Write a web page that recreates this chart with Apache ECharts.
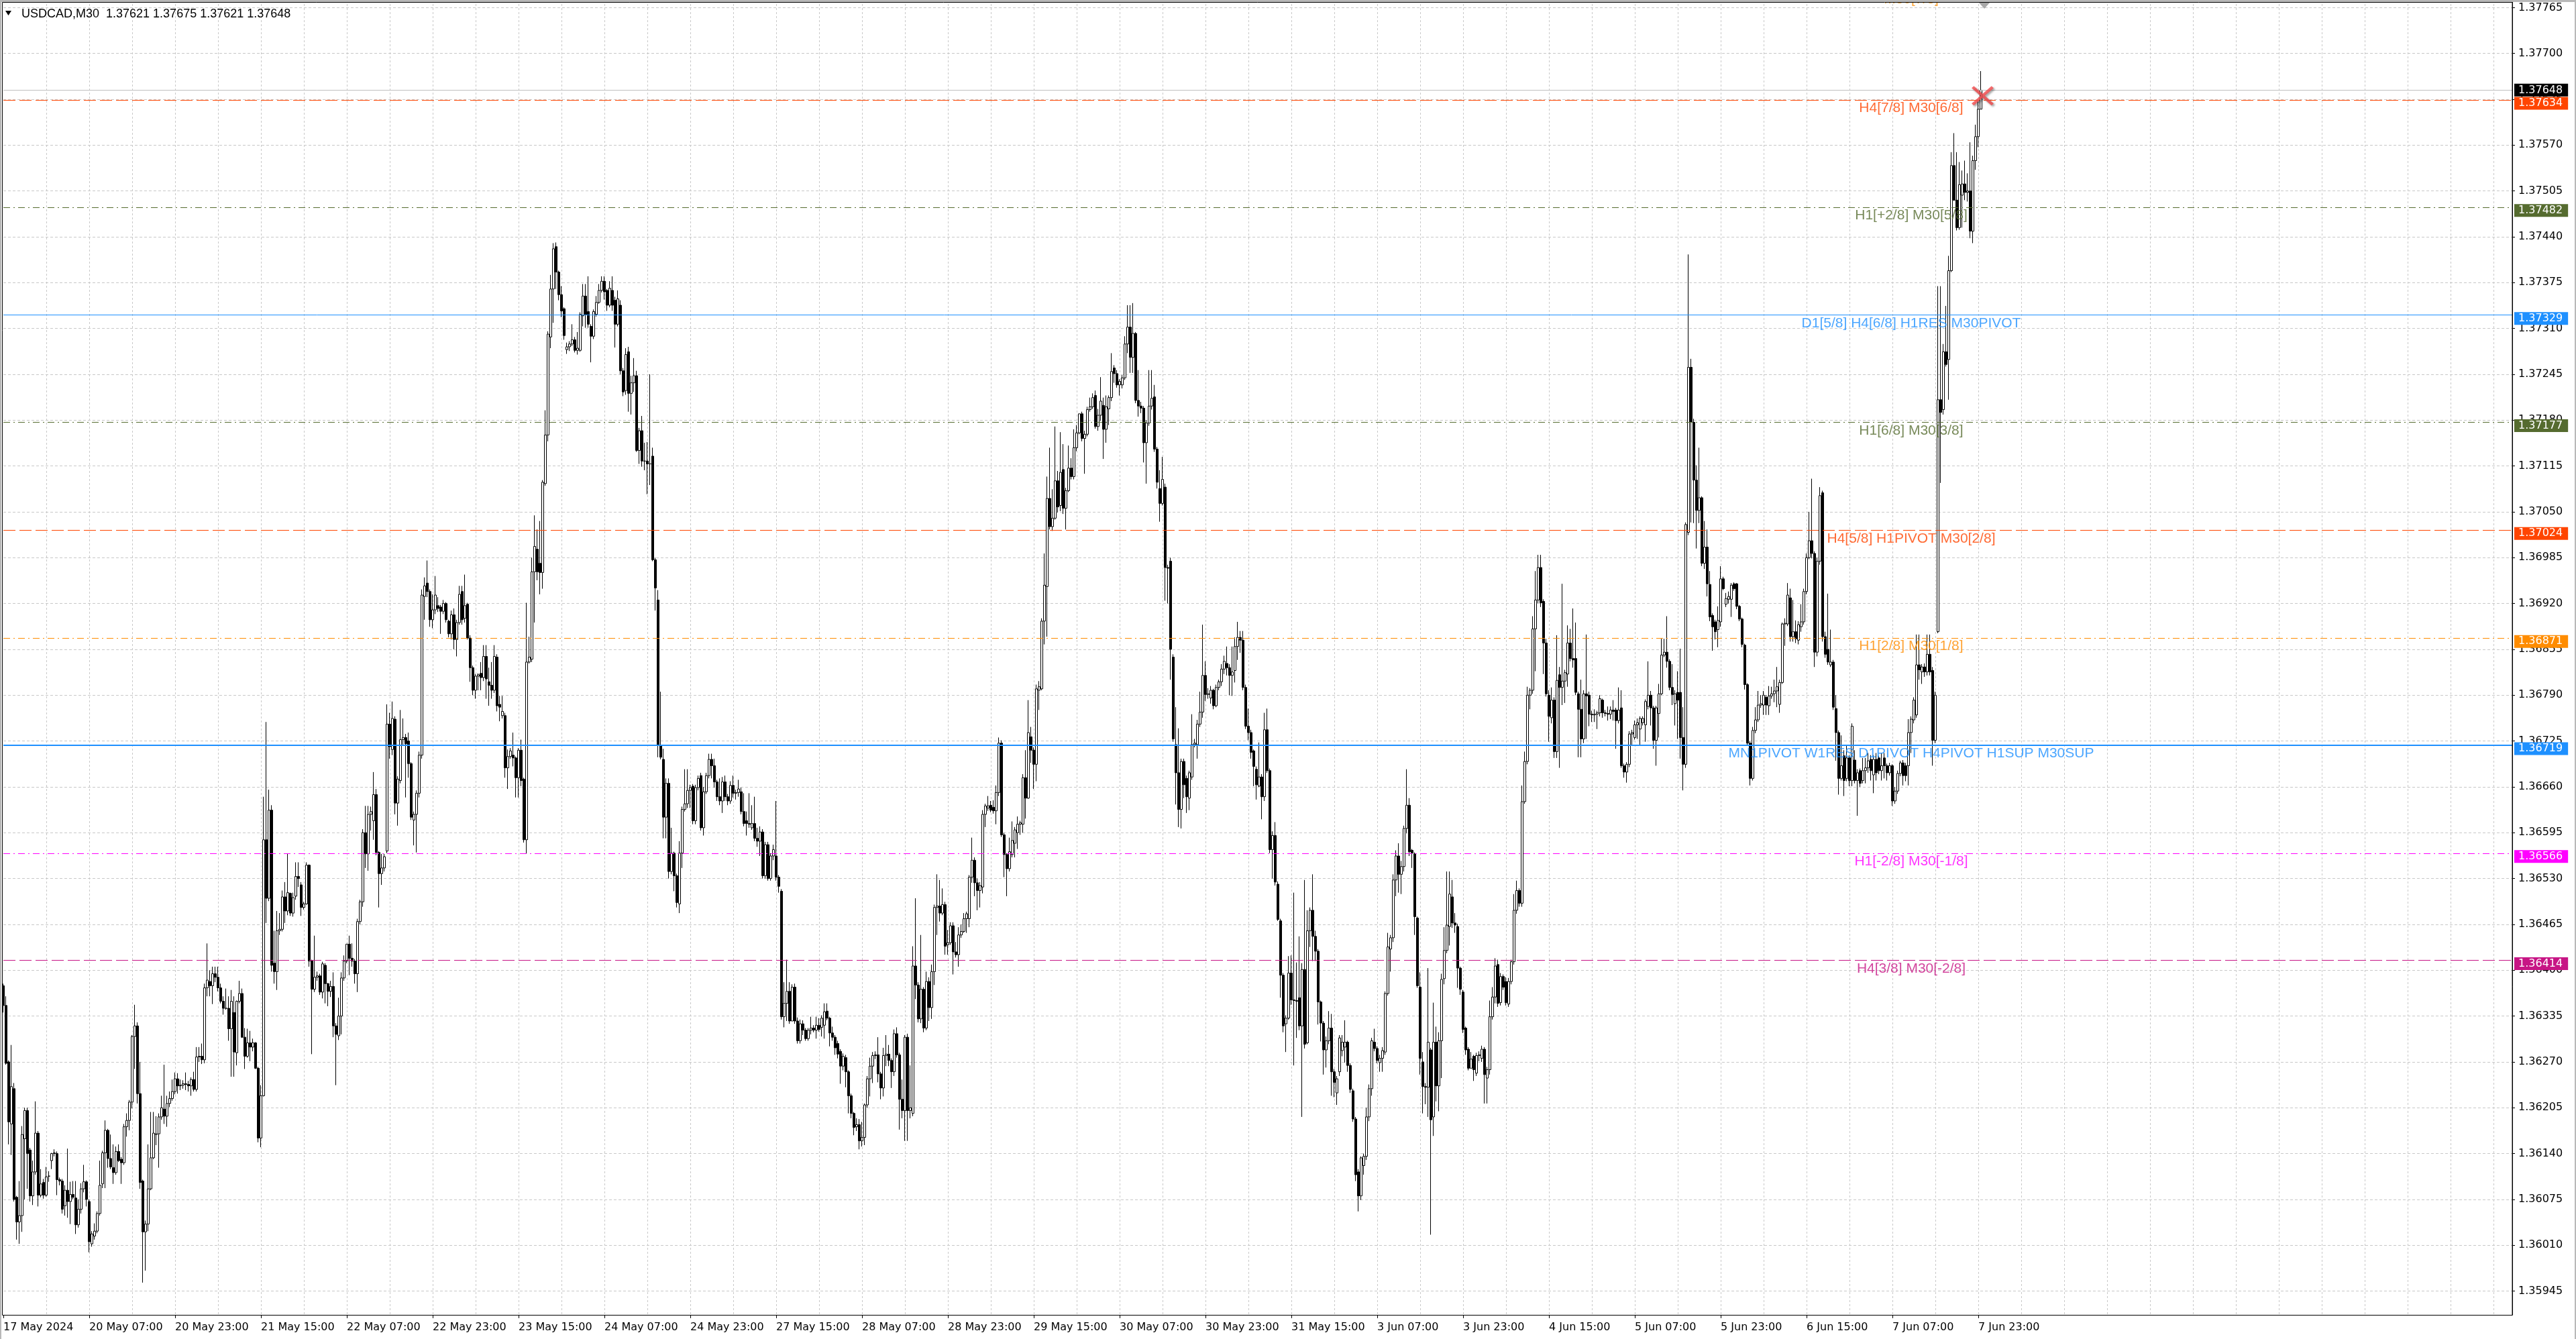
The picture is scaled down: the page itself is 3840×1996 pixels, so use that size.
<!DOCTYPE html>
<html><head><meta charset="utf-8">
<script src="https://cdn.jsdelivr.net/npm/echarts@6/dist/echarts.min.js"></script>
<style>html,body{margin:0;padding:0;background:#fff}#c{width:3840px;height:1996px}</style>
</head><body><div id="c"></div>
<script>
// Prices are stored in points: price = 1.35 + v / 100000
const open = [
1378,1350,1270,1182,1232,1078,1043,1052,1161,1201,
1145,1080,1114,1169,1081,1099,1081,1108,1130,1140,
1140,1103,1101,1066,1088,1072,1082,1077,1039,1061,
1090,1100,1072,1012,1023,1030,1055,1097,1141,1173,
1133,1120,1113,1143,1132,1127,1178,1187,1213,1306,
1321,1225,1101,1029,1040,1090,1134,1167,1168,1192,
1203,1193,1211,1218,1228,1246,1236,1237,1239,1238,
1236,1245,1231,1277,1278,1273,1375,1384,1378,1395,
1390,1375,1356,1346,1346,1317,1340,1283,1356,1367,
1305,1278,1297,1291,1297,1261,1162,1222,1585,1502,
1627,1410,1398,1456,1458,1504,1484,1509,1481,1505,
1533,1521,1489,1494,1549,1413,1373,1390,1392,1369,
1407,1381,1370,1377,1321,1307,1335,1389,1413,1437,
1417,1413,1395,1469,1497,1595,1565,1621,1612,1649,
1567,1537,1545,1569,1749,1713,1756,1637,1669,1727,
1730,1725,1693,1613,1621,1651,1705,1930,1949,1937,
1897,1911,1917,1915,1909,1920,1895,1877,1904,1869,
1893,1937,1899,1919,1871,1829,1797,1817,1821,1815,
1845,1809,1804,1797,1844,1777,1761,1761,1687,1703,
1705,1701,1673,1712,1671,1585,1837,1841,1965,1997,
1977,1964,2090,2159,2298,2366,2426,2390,2358,2338,
2280,2284,2288,2294,2279,2279,2328,2356,2334,2313,
2299,2330,2347,2364,2377,2364,2343,2364,2350,2316,
2343,2250,2222,2277,2218,2233,2243,2137,2165,2122,
2122,2118,2129,1982,1925,1719,1699,1617,1665,1540,
1566,1534,1494,1566,1628,1636,1655,1661,1612,1659,
1676,1602,1653,1676,1699,1690,1667,1646,1640,1667,
1646,1640,1662,1651,1652,1653,1625,1612,1608,1602,
1608,1587,1583,1596,1534,1578,1530,1562,1562,1532,
1512,1334,1353,1370,1328,1376,1328,1300,1324,1315,
1303,1315,1318,1315,1322,1319,1322,1342,1332,1311,
1305,1296,1285,1264,1276,1256,1222,1197,1178,1181,
1158,1163,1209,1246,1264,1279,1280,1253,1233,1279,
1281,1272,1256,1310,1280,1217,1201,1305,1201,1197,
1406,1379,1331,1373,1318,1384,1347,1398,1489,1491,
1481,1493,1436,1439,1463,1426,1422,1450,1455,1473,
1473,1532,1556,1524,1513,1518,1621,1630,1634,1631,
1626,1652,1722,1592,1564,1544,1564,1580,1595,1607,
1607,1673,1644,1731,1712,1692,1797,1799,1895,1944,
2069,2029,2041,2094,2059,2110,2055,2080,2112,2100,
2141,2162,2189,2154,2160,2195,2199,2215,2171,2187,
2201,2167,2196,2212,2254,2246,2230,2230,2240,2288,
2312,2269,2303,2208,2200,2197,2148,2176,2200,2213,
2139,2083,2062,2085,1971,1980,1844,1720,1680,1628,
1696,1672,1644,1674,1720,1720,1749,1766,1818,1791,
1786,1797,1775,1801,1809,1827,1835,1829,1818,1825,
1859,1872,1868,1801,1746,1737,1711,1685,1661,1674,
1646,1741,1683,1571,1591,1522,1470,1393,1324,1332,
1396,1358,1357,1361,1321,1401,1297,1456,1485,1448,
1427,1355,1325,1287,1300,1318,1256,1226,1256,1286,
1291,1298,1265,1229,1189,1114,1080,1123,1136,1192,
1232,1298,1289,1269,1275,1284,1367,1430,1446,1528,
1562,1536,1547,1601,1634,1570,1565,1474,1376,1270,
1235,1234,1287,1192,1298,1236,1300,1388,1428,1462,
1504,1467,1462,1403,1369,1318,1288,1261,1278,1254,
1279,1275,1288,1247,1259,1334,1362,1408,1354,1391,
1384,1352,1384,1412,1485,1513,1495,1639,1696,1790,
1797,1884,1925,1971,1923,1864,1790,1758,1783,1710,
1819,1801,1810,1820,1864,1842,1842,1792,1770,1728,
1792,1790,1763,1762,1763,1765,1783,1765,1764,1763,
1769,1769,1754,1772,1690,1681,1692,1735,1730,1748,
1742,1751,1748,1774,1790,1772,1726,1764,1792,1847,
1851,1838,1801,1778,1794,1794,1730,1692,2021,2255,
2177,2095,2052,2070,1977,2000,1947,1903,1894,1883,
1894,1955,1919,1926,1926,1948,1948,1916,1898,1861,
1805,1722,1672,1740,1755,1776,1776,1787,1775,1789,
1792,1796,1777,1808,1891,1891,1928,1873,1880,1868,
1887,1894,1937,1985,2009,1991,1851,1980,2077,1873,
1855,1833,1837,1771,1737,1672,1704,1672,1701,1669,
1698,1669,1683,1669,1683,1687,1699,1677,1699,1701,
1683,1701,1690,1680,1690,1640,1654,1679,1694,1690,
1690,1737,1755,1762,1833,1823,1830,1823,1848,1825,
1726,1880,2209,2195,2277,2266,2392,2541,2492,2453,
2499,2515,2503,2505,2448,2548,2582,2621];
const high = [
1381,1363,1272,1294,1240,1080,1101,1179,1205,1205,
1148,1130,1214,1172,1118,1104,1121,1115,1141,1146,
1143,1106,1104,1095,1147,1100,1101,1101,1075,1098,
1124,1102,1075,1030,1041,1058,1130,1144,1187,1175,
1167,1153,1150,1153,1135,1182,1197,1216,1308,1351,
1326,1270,1103,1045,1153,1199,1199,1193,1197,1222,
1266,1222,1228,1245,1255,1254,1245,1244,1255,1243,
1248,1256,1291,1291,1296,1381,1438,1400,1405,1405,
1405,1381,1363,1374,1363,1372,1363,1357,1385,1374,
1318,1317,1314,1303,1298,1263,1237,1646,1752,1656,
1634,1456,1484,1481,1513,1525,1565,1510,1510,1553,
1553,1525,1497,1553,1550,1415,1449,1398,1395,1412,
1410,1382,1385,1397,1325,1361,1397,1421,1437,1449,
1438,1416,1473,1500,1600,1633,1633,1632,1681,1657,
1569,1565,1565,1777,1765,1781,1760,1675,1769,1757,
1735,1737,1695,1625,1655,1710,1940,1957,1981,1940,
1933,1959,1929,1918,1925,1922,1897,1910,1913,1897,
1945,1945,1961,1921,1875,1832,1820,1821,1837,1861,
1861,1829,1837,1861,1848,1789,1789,1765,1713,1715,
1737,1703,1715,1727,1673,1921,1873,1985,2045,2025,
2037,2095,2194,2306,2386,2431,2432,2392,2370,2340,
2290,2292,2316,2298,2305,2333,2373,2373,2384,2316,
2337,2356,2373,2384,2384,2366,2377,2384,2355,2364,
2350,2254,2282,2284,2243,2268,2250,2169,2186,2148,
2149,2245,2141,1985,1939,1795,1714,1672,1672,1602,
1568,1537,1583,1632,1685,1685,1663,1664,1663,1676,
1680,1660,1680,1707,1707,1700,1670,1672,1674,1676,
1650,1668,1676,1656,1670,1659,1651,1625,1651,1634,
1646,1602,1604,1600,1582,1582,1566,1578,1640,1535,
1515,1383,1415,1383,1380,1381,1333,1330,1329,1318,
1318,1334,1322,1334,1332,1336,1353,1353,1334,1320,
1308,1300,1288,1282,1280,1258,1225,1199,1190,1189,
1185,1211,1250,1276,1284,1285,1305,1256,1290,1308,
1294,1275,1316,1319,1283,1245,1308,1310,1265,1434,
1502,1383,1450,1376,1398,1390,1408,1493,1536,1528,
1516,1497,1457,1468,1468,1440,1461,1465,1481,1483,
1535,1588,1560,1530,1525,1627,1636,1647,1640,1641,
1662,1730,1726,1595,1566,1588,1611,1603,1618,1612,
1678,1712,1783,1745,1716,1805,1810,1899,1991,2100,
2141,2082,2171,2108,2163,2146,2084,2144,2126,2167,
2173,2189,2192,2165,2199,2212,2218,2222,2196,2241,
2212,2215,2215,2275,2258,2251,2238,2244,2299,2343,
2343,2346,2305,2251,2206,2200,2180,2251,2251,2230,
2142,2109,2128,2090,1975,1985,1848,1773,1743,1700,
1700,1676,1683,1763,1728,1755,1795,1890,1838,1800,
1803,1799,1805,1812,1834,1846,1859,1834,1859,1872,
1894,1881,1881,1805,1771,1741,1713,1689,1723,1678,
1765,1771,1686,1597,1610,1526,1473,1396,1336,1420,
1421,1510,1411,1448,1410,1528,1485,1489,1536,1456,
1430,1357,1328,1306,1342,1338,1260,1250,1308,1308,
1329,1300,1268,1232,1192,1118,1136,1140,1205,1238,
1304,1317,1292,1280,1291,1370,1453,1450,1536,1570,
1580,1555,1605,1685,1644,1572,1567,1476,1397,1284,
1240,1403,1290,1354,1320,1312,1395,1461,1540,1540,
1528,1481,1466,1405,1372,1320,1291,1284,1280,1283,
1285,1293,1291,1263,1357,1376,1417,1415,1396,1394,
1390,1389,1415,1508,1527,1516,1662,1710,1802,1800,
1902,1966,1989,1989,1926,1870,1797,1801,1787,1875,
1830,1948,1826,1889,1884,1913,1893,1795,1812,1797,
1876,1795,1768,1770,1768,1790,1785,1769,1774,1774,
1783,1772,1801,1797,1693,1695,1739,1741,1754,1757,
1760,1760,1784,1838,1796,1775,1775,1806,1870,1870,
1902,1841,1834,1797,1824,1856,1773,2035,2415,2267,
2182,2116,2141,2072,2037,2025,1966,1906,1897,1916,
1973,1958,1935,1937,1949,1950,1949,1918,1900,1863,
1807,1725,1745,1773,1796,1790,1796,1790,1803,1802,
1812,1830,1812,1893,1899,1949,1941,1925,1896,1895,
1919,1941,1991,2050,2097,1994,1985,2085,2080,1880,
1934,1883,1840,1790,1740,1733,1712,1719,1705,1750,
1712,1685,1686,1701,1701,1708,1705,1705,1708,1704,
1708,1708,1693,1694,1692,1660,1683,1697,1698,1694,
1756,1760,1787,1876,1876,1834,1835,1876,1876,1830,
1795,2370,2370,2288,2342,2413,2560,2587,2560,2546,
2534,2548,2530,2574,2555,2599,2632,2675];
const low = [
1340,1266,1153,1138,1072,1018,1012,1029,1075,1090,
1072,1067,1110,1065,1078,1076,1079,1100,1118,1136,
1081,1095,1055,1052,1049,1040,1075,1026,1035,1055,
1085,1065,1000,1008,1018,1027,1052,1091,1091,1120,
1118,1097,1110,1128,1097,1124,1164,1173,1204,1260,
1211,1090,957,974,1030,1088,1132,1152,1120,1188,
1182,1178,1206,1215,1224,1225,1230,1232,1230,1228,
1222,1228,1228,1270,1267,1268,1363,1363,1352,1383,
1370,1353,1337,1344,1300,1249,1249,1265,1353,1304,
1260,1276,1271,1285,1260,1156,1149,1221,1467,1498,
1398,1381,1372,1450,1455,1467,1478,1477,1476,1500,
1518,1477,1486,1493,1405,1281,1369,1385,1365,1360,
1353,1349,1362,1305,1237,1301,1309,1385,1410,1393,
1405,1381,1369,1465,1490,1545,1541,1598,1585,1563,
1489,1521,1540,1566,1700,1705,1621,1605,1665,1720,
1645,1673,1613,1577,1567,1645,1700,1897,1929,1887,
1885,1905,1908,1877,1905,1893,1872,1869,1855,1845,
1890,1890,1893,1869,1809,1790,1785,1797,1797,1810,
1785,1775,1785,1793,1767,1753,1757,1673,1657,1700,
1689,1645,1645,1661,1581,1565,1835,1837,1893,1953,
1933,1941,2087,2150,2282,2318,2366,2350,2326,2294,
2274,2278,2285,2276,2273,2277,2313,2311,2311,2262,
2295,2327,2345,2361,2351,2335,2340,2335,2283,2313,
2245,2214,2216,2192,2188,2220,2135,2118,2114,2109,
2075,2088,1980,1910,1702,1699,1587,1587,1530,1536,
1512,1489,1481,1545,1625,1630,1630,1607,1607,1655,
1598,1591,1650,1672,1672,1659,1640,1634,1623,1640,
1634,1636,1645,1642,1646,1621,1604,1591,1602,1599,
1583,1575,1562,1530,1530,1527,1527,1556,1527,1510,
1330,1319,1328,1324,1328,1324,1296,1296,1308,1300,
1300,1309,1312,1303,1313,1306,1303,1329,1292,1300,
1280,1275,1239,1258,1234,1197,1190,1166,1172,1146,
1150,1152,1205,1221,1240,1274,1241,1217,1221,1264,
1264,1233,1250,1276,1174,1190,1158,1158,1190,1193,
1359,1326,1325,1312,1315,1328,1331,1379,1450,1469,
1478,1422,1422,1436,1394,1418,1405,1446,1453,1453,
1461,1524,1505,1485,1489,1509,1603,1626,1624,1622,
1607,1647,1589,1532,1505,1540,1560,1560,1572,1592,
1595,1615,1643,1694,1657,1668,1769,1797,1862,1873,
2025,2023,2039,2049,2051,2047,2025,2078,2096,2096,
2136,2160,2150,2104,2157,2192,2196,2168,2165,2179,
2125,2148,2173,2207,2233,2226,2215,2225,2237,2275,
2247,2247,2204,2185,2190,2120,2090,2172,2195,2135,
2083,2036,2059,1924,1920,1812,1724,1635,1603,1601,
1644,1623,1627,1670,1716,1700,1745,1758,1782,1785,
1778,1770,1773,1797,1803,1820,1818,1790,1789,1808,
1840,1850,1797,1742,1726,1700,1661,1642,1660,1614,
1640,1680,1566,1530,1520,1470,1361,1312,1284,1330,
1351,1265,1304,1315,1192,1289,1295,1433,1413,1413,
1323,1299,1252,1262,1295,1222,1220,1209,1250,1278,
1269,1256,1226,1185,1101,1058,1074,1110,1131,1186,
1222,1285,1268,1256,1256,1280,1364,1398,1440,1505,
1510,1508,1540,1594,1562,1545,1450,1375,1252,1197,
1210,1192,1025,1165,1214,1200,1247,1380,1424,1435,
1460,1453,1375,1365,1311,1280,1258,1261,1243,1250,
1271,1270,1211,1211,1252,1330,1353,1348,1350,1372,
1350,1348,1380,1408,1480,1490,1490,1636,1692,1770,
1792,1824,1920,1915,1820,1788,1724,1750,1701,1701,
1687,1776,1779,1802,1838,1829,1790,1702,1702,1722,
1728,1746,1752,1752,1742,1760,1758,1760,1754,1756,
1754,1714,1750,1687,1673,1666,1688,1719,1727,1728,
1719,1747,1724,1770,1747,1714,1690,1730,1790,1844,
1829,1797,1776,1747,1728,1700,1655,1687,2017,2035,
2034,1998,2034,1973,1969,1930,1895,1853,1869,1858,
1887,1939,1915,1920,1901,1938,1912,1895,1858,1798,
1719,1662,1669,1736,1752,1772,1762,1762,1762,1785,
1780,1773,1765,1806,1860,1888,1866,1866,1864,1862,
1880,1890,1933,1983,1984,1830,1845,1975,1866,1843,
1833,1830,1769,1697,1649,1669,1647,1668,1661,1661,
1665,1619,1660,1665,1665,1680,1669,1651,1669,1678,
1669,1672,1669,1676,1633,1636,1650,1675,1662,1668,
1662,1708,1750,1758,1812,1806,1816,1818,1818,1690,
1722,1878,2091,2188,2256,2209,2390,2491,2449,2450,
2453,2492,2490,2438,2431,2535,2567,2621];
const close = [
1350,1268,1185,1235,1075,1043,1052,1167,1201,1140,
1080,1114,1169,1081,1097,1081,1107,1108,1140,1141,
1103,1101,1061,1088,1072,1082,1078,1039,1061,1090,
1100,1075,1015,1026,1030,1055,1095,1141,1173,1133,
1121,1113,1143,1130,1127,1178,1187,1213,1306,1321,
1225,1099,1029,1040,1090,1134,1169,1168,1192,1205,
1193,1211,1218,1228,1246,1236,1237,1239,1238,1236,
1245,1231,1277,1278,1273,1375,1386,1378,1395,1390,
1375,1356,1346,1346,1317,1356,1284,1356,1367,1305,
1278,1297,1291,1297,1261,1162,1222,1585,1502,1627,
1407,1398,1456,1458,1504,1484,1510,1481,1503,1533,
1530,1489,1494,1549,1413,1373,1390,1392,1369,1409,
1381,1370,1377,1321,1309,1335,1389,1413,1437,1417,
1413,1395,1469,1497,1595,1565,1621,1625,1649,1567,
1537,1545,1561,1749,1717,1757,1637,1671,1727,1730,
1721,1693,1617,1621,1651,1705,1932,1945,1937,1897,
1911,1932,1913,1909,1920,1897,1877,1904,1869,1893,
1933,1897,1917,1871,1829,1797,1817,1819,1815,1845,
1813,1804,1797,1845,1775,1773,1767,1687,1703,1711,
1701,1673,1712,1669,1585,1837,1844,1965,2001,1965,
1964,2092,2159,2302,2366,2423,2390,2358,2335,2300,
2284,2288,2294,2279,2282,2330,2356,2330,2316,2299,
2334,2347,2364,2377,2362,2343,2367,2343,2316,2352,
2250,2220,2273,2218,2233,2243,2137,2165,2122,2122,
2118,2118,1982,1942,1719,1702,1617,1665,1540,1566,
1534,1496,1566,1628,1636,1655,1659,1612,1659,1672,
1602,1653,1676,1699,1690,1667,1646,1640,1667,1646,
1640,1662,1651,1652,1657,1625,1608,1608,1607,1608,
1587,1583,1596,1534,1578,1530,1562,1571,1532,1519,
1334,1353,1370,1328,1376,1328,1300,1324,1315,1303,
1315,1318,1315,1322,1316,1332,1341,1332,1311,1305,
1290,1281,1264,1278,1256,1222,1197,1177,1181,1158,
1163,1209,1246,1264,1279,1280,1253,1233,1279,1281,
1272,1256,1310,1280,1217,1201,1305,1201,1205,1406,
1379,1331,1373,1318,1384,1347,1398,1489,1491,1481,
1493,1434,1439,1463,1426,1422,1450,1455,1473,1480,
1532,1556,1524,1513,1520,1621,1633,1633,1627,1626,
1652,1722,1592,1564,1544,1568,1584,1599,1607,1609,
1673,1644,1737,1712,1692,1799,1802,1895,1946,2069,
2029,2041,2094,2057,2106,2055,2080,2112,2100,2141,
2162,2189,2154,2160,2195,2199,2212,2171,2187,2207,
2167,2199,2212,2249,2246,2230,2235,2240,2288,2312,
2269,2303,2208,2200,2197,2148,2176,2200,2211,2139,
2092,2062,2096,1971,1970,1855,1728,1680,1628,1696,
1663,1646,1680,1720,1722,1749,1766,1818,1791,1792,
1797,1775,1801,1809,1827,1838,1829,1818,1823,1859,
1872,1868,1801,1746,1737,1709,1689,1663,1674,1646,
1741,1683,1571,1591,1525,1472,1393,1321,1332,1396,
1358,1357,1356,1321,1401,1295,1456,1485,1448,1427,
1355,1325,1287,1300,1318,1256,1241,1246,1304,1298,
1298,1265,1231,1189,1110,1080,1134,1136,1192,1232,
1300,1289,1272,1275,1286,1367,1433,1446,1528,1562,
1536,1547,1601,1634,1568,1566,1476,1378,1275,1235,
1234,1298,1188,1298,1236,1300,1387,1428,1464,1508,
1467,1464,1403,1373,1316,1287,1261,1274,1259,1279,
1280,1288,1252,1259,1334,1362,1406,1353,1391,1376,
1354,1384,1412,1485,1513,1495,1639,1696,1790,1797,
1884,1925,1971,1921,1864,1792,1760,1783,1710,1811,
1801,1810,1822,1864,1842,1840,1794,1770,1728,1792,
1789,1763,1762,1763,1765,1785,1765,1764,1763,1769,
1767,1754,1769,1690,1681,1692,1735,1737,1748,1751,
1757,1757,1781,1790,1772,1726,1772,1792,1847,1851,
1838,1801,1791,1792,1783,1730,1692,2032,2255,2177,
2095,2052,2070,1977,2000,1948,1901,1887,1880,1896,
1955,1941,1927,1930,1946,1941,1916,1898,1862,1805,
1722,1672,1740,1755,1776,1778,1790,1776,1789,1792,
1796,1802,1808,1891,1892,1932,1873,1880,1870,1890,
1894,1937,1985,2009,1991,1851,1980,2073,1873,1848,
1837,1837,1773,1737,1672,1690,1669,1701,1669,1746,
1669,1680,1665,1683,1687,1697,1683,1699,1680,1683,
1690,1690,1680,1690,1640,1654,1679,1694,1676,1676,
1737,1756,1783,1833,1826,1830,1823,1848,1823,1726,
1790,2209,2191,2277,2259,2392,2541,2492,2453,2514,
2515,2503,2505,2448,2548,2582,2621,2648];

const timeLabels = ['17 May 2024','20 May 07:00','20 May 23:00','21 May 15:00','22 May 07:00','22 May 23:00',
 '23 May 15:00','24 May 07:00','24 May 23:00','27 May 15:00','28 May 07:00','28 May 23:00','29 May 15:00',
 '30 May 07:00','30 May 23:00','31 May 15:00','3 Jun 07:00','3 Jun 23:00','4 Jun 15:00','5 Jun 07:00',
 '5 Jun 23:00','6 Jun 15:00','7 Jun 07:00','7 Jun 23:00'];
const priceTickLabels = ['1.35945','1.36010','1.36075','1.36140','1.36205','1.36270','1.36335','1.36400',
 '1.36465','1.36530','1.36595','1.36660','1.36725','1.36790','1.36855','1.36920','1.36985','1.37050',
 '1.37115','1.37180','1.37245','1.37310','1.37375','1.37440','1.37505','1.37570','1.37635','1.37700','1.37765'];

const levelValues = [2634, 2482, 2329, 2177, 2024, 1871, 1719, 1566, 1414];
const levelTexts = ['H4[7/8] M30[6/8]','H1[+2/8] M30[5/8]','D1[5/8] H4[6/8] H1RES M30PIVOT','H1[6/8] M30[3/8]',
 'H4[5/8] H1PIVOT M30[2/8]','H1[2/8] M30[1/8]','MN1PIVOT W1RES D1PIVOT H4PIVOT H1SUP M30SUP',
 'H1[-2/8] M30[-1/8]','H4[3/8] M30[-2/8]'];
const topLevelValue = [2788];
const topLevelText = ['M30[7/8]'];
const bidValue = [2648];
const signalValue = [2640];

// ---- styles (kept apart from data) ----
const levelColors = ['#ff4500','#556b2f','#1e90ff','#556b2f','#ff4500','#ff8c00','#1e90ff','#ff00ff','#c71585'];
const DASH = [18,6], DASHDOT = [10,5,2,5];
const levelDash = [DASH, DASHDOT, 'solid', DASHDOT, DASH, DASHDOT, 'solid', DASHDOT, DASH];
const levelWidth = [1,1,1,1,1,1,2,1,1];
const AXFONT = 'DejaVu Sans';
const TXFONT = 'Liberation Sans';
const NSLOT = 936;
const LABEL_IDX = 711;

const toPrice = v => (1.35 + v / 100000).toFixed(5);
const priceTicks = priceTickLabels.map(s => Math.round(parseFloat(s) * 100000) - 135000);
const cats = [];
for (let i = 0; i < NSLOT; i++) cats.push(i % 32 === 0 && i / 32 < timeLabels.length ? timeLabels[i / 32] : '');
const candles = open.map((o, i) => [o, close[i], Math.min(low[i], o, close[i]), Math.max(high[i], o, close[i])]);
const last = open.length - 1;

const tagLabel = (v, bg, dy) => ({
  show: true, position: 'end', distance: 3, formatter: toPrice(v), backgroundColor: bg, color: '#fff',
  padding: [1, 8, 1, 6], lineHeight: 17, fontFamily: AXFONT, fontSize: 16, offset: [0, dy]
});

const chart = echarts.init(document.getElementById('c'), null, {renderer: 'canvas'});
chart.setOption({
  animation: false,
  backgroundColor: '#ffffff',
  grid: {left: 5, right: 95, top: 0, bottom: 36, outerBoundsMode: 'none', show: false},
  xAxis: {
    type: 'category', data: cats, boundaryGap: false,
    axisLine: {show: true, lineStyle: {color: '#000', width: 1}},
    axisTick: {show: true, length: 5, interval: i => i % 32 === 0 && i <= 736, lineStyle: {color: '#000'}},
    axisLabel: {interval: 0, hideOverlap: false, align: 'left', margin: 11, color: '#000', fontFamily: AXFONT, fontSize: 16},
    splitLine: {show: true, interval: i => i % 16 === 0 && i > 0, lineStyle: {color: '#c8c8c8', type: [3, 3], width: 1}}
  },
  yAxis: {
    type: 'value', position: 'right', min: 911.3, max: 2775.8, scale: true,
    axisLine: {show: true, lineStyle: {color: '#000'}},
    axisTick: {show: true, length: 4, customValues: priceTicks, lineStyle: {color: '#000'}},
    axisLabel: {customValues: priceTicks, formatter: v => toPrice(v), margin: 9, color: '#000', fontFamily: AXFONT, fontSize: 16, hideOverlap: false},
    splitLine: {show: true, lineStyle: {color: '#c8c8c8', type: [4, 3], width: 1}}
  },
  series: [
    {
      type: 'candlestick', data: candles, large: false, barWidth: 3, clip: true, z: 2,
      itemStyle: {color: '#ffffff', color0: '#000000', borderColor: '#000000', borderColor0: '#000000', borderWidth: 1},
      silent: true
    },
    {
      type: 'scatter', name: 'levels', symbolSize: 0, clip: false, z: 5, silent: true,
      data: levelValues.map((v, k) => ({value: [LABEL_IDX, v], label: {formatter: levelTexts[k], color: levelColors[k]}}))
        .concat(topLevelValue.map((v, k) => ({value: [LABEL_IDX, v], label: {formatter: topLevelText[k], color: '#ff8c00'}}))),
      label: {show: true, position: 'bottom', distance: 2, fontFamily: TXFONT, fontSize: 21},
      markLine: {
        silent: true, symbol: ['none', 'none'], animation: false,
        data: levelValues.map((v, k) => ({
          yAxis: v, lineStyle: {color: levelColors[k], type: levelDash[k], width: levelWidth[k]},
          label: tagLabel(v, levelColors[k], 5)
        })).concat(bidValue.map(v => ({
          yAxis: v, lineStyle: {color: '#c0c0c0', type: 'solid', width: 1}, label: tagLabel(v, '#000000', 0)
        })))
      }
    },
    {
      type: 'scatter', name: 'signal', z: 6, silent: true, clip: false,
      data: signalValue.map(v => [last, v]),
      symbol: 'path://M2,0 L10,8 L18,0 L20,2 L12,10 L20,18 L18,20 L10,12 L2,20 L0,18 L8,10 L0,2 Z',
      symbolSize: [33, 29], symbolOffset: [2.5, 0],
      itemStyle: {color: '#f24a4c', shadowBlur: 3, shadowColor: 'rgba(0,0,0,0.45)', shadowOffsetX: 2, shadowOffsetY: 2}
    }
  ],
  graphic: [
    {type: 'rect', shape: {x: 0, y: 0, width: 3840, height: 3}, style: {fill: '#b8b8b8'}, silent: true, z: 10},
    {type: 'rect', shape: {x: 0, y: 0, width: 2, height: 1996}, style: {fill: '#b8b8b8'}, silent: true, z: 10},
    {type: 'rect', shape: {x: 3838, y: 0, width: 2, height: 1996}, style: {fill: '#b8b8b8'}, silent: true, z: 10},
    {type: 'rect', shape: {x: 3.5, y: 3.5, width: 3741.5, height: 1957}, style: {fill: null, stroke: '#000', lineWidth: 1}, silent: true, z: 10},
    {type: 'polygon', shape: {points: [[8, 16], [17, 16], [12.5, 23]]}, style: {fill: '#000'}, silent: true, z: 10},
    {type: 'text', x: 32, y: 21, style: {text: 'USDCAD,M30  ' + [open[last], high[last], low[last], close[last]].map(toPrice).join(' '),
      font: '18px "Liberation Sans"', fill: '#000', verticalAlign: 'middle'}, silent: true, z: 10},
    {type: 'polygon', shape: {points: [[2950, 4], [2966, 4], [2958, 13]]}, style: {fill: '#a8a8a8'}, silent: true, z: 10}
  ]
});
</script>
</body></html>
